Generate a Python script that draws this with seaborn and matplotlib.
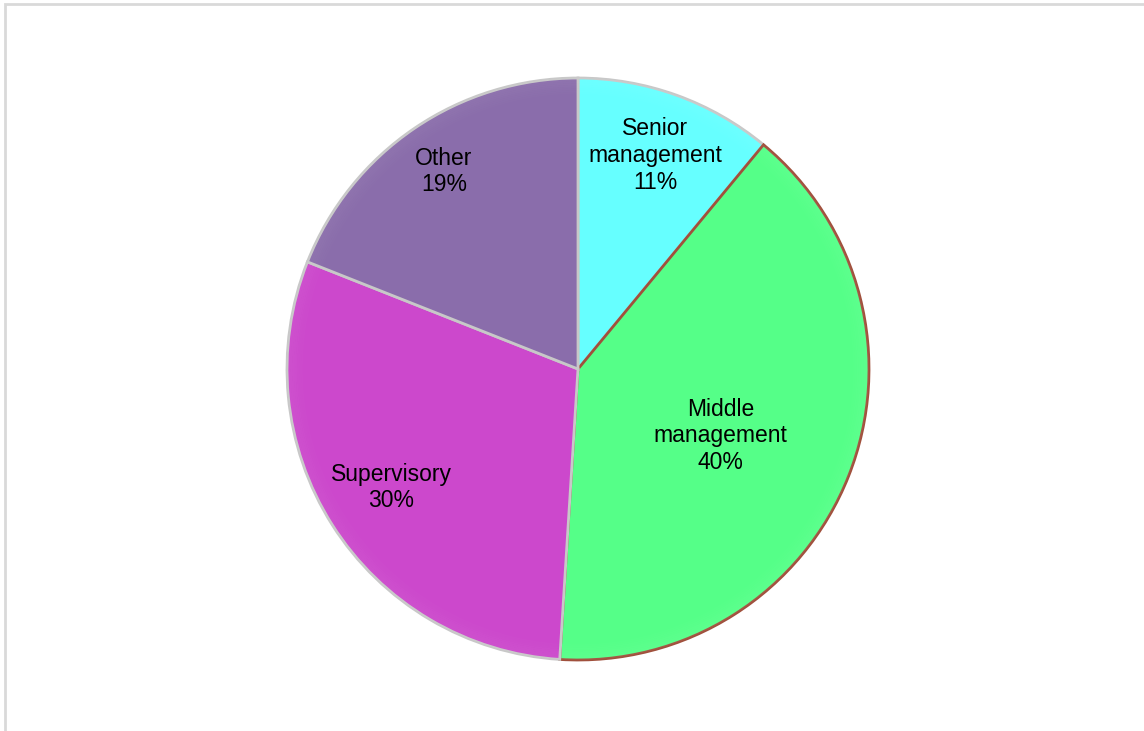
import numpy as np
import matplotlib
matplotlib.use("Agg")
import matplotlib.pyplot as plt
from matplotlib.patches import Rectangle, Wedge
import seaborn as sns

# Share of respondents by management level
categories = ["Senior\nmanagement", "Middle\nmanagement", "Supervisory", "Other"]
shares = [11, 40, 30, 19]
pct_labels = ["11%", "40%", "30%", "19%"]

colors = ["#66FFFF", "#55FF88", "#CC48CC", "#8A6DAB"]
edge_colors = ["#C8C8C8", "#A0503C", "#C8C8C8", "#C8C8C8"]
label_radius = [0.78, 0.54, 0.76, 0.82]
label_turn = [0.0, -3.5, 0.0, 0.0]  # small angular nudges, degrees

sns.set_theme(style="white")
plt.rcParams["font.family"] = ["Liberation Sans", "DejaVu Sans"]

fig = plt.figure(figsize=(11.44, 7.31), dpi=100)
W, H = 1144, 731
cx, cy, r = 578, 369, 291
ax = fig.add_axes([(cx - r) / W, (H - cy - r) / H, 2 * r / W, 2 * r / H])

wedges, _ = ax.pie(shares, colors=colors, startangle=90, counterclock=False,
                   radius=1.0, wedgeprops=dict(linewidth=2.0))
for w, ec in zip(wedges, edge_colors):
    w.set_edgecolor(ec)

# soft bevel highlight along the rim of each slice
for w in wedges:
    for k in range(10):
        rr = 1.0 - k * 0.006
        ax.add_patch(Wedge((0, 0), rr, w.theta1, w.theta2, width=0.006,
                           facecolor="white", edgecolor="none",
                           alpha=0.05 * (10 - k) / 10, zorder=3))

for w, cat, pct, lr, turn in zip(wedges, categories, pct_labels,
                                 label_radius, label_turn):
    ang = np.deg2rad((w.theta1 + w.theta2) / 2 + turn)
    ax.text(lr * np.cos(ang), lr * np.sin(ang), f"{cat}\n{pct}",
            ha="center", va="center", fontsize=16.5, color="black",
            linespacing=1.2, zorder=5)

ax.set_xlim(-1.0, 1.0)
ax.set_ylim(-1.0, 1.0)
ax.set_aspect("equal")
ax.axis("off")

# light outer frame
fig.patches.append(Rectangle((5 / W, -0.05), 1.2, (H - 4) / H + 0.05,
                             transform=fig.transFigure, fill=False,
                             edgecolor="#D9D9D9", linewidth=2))

fig.savefig("out.png", dpi=100, facecolor="white")
